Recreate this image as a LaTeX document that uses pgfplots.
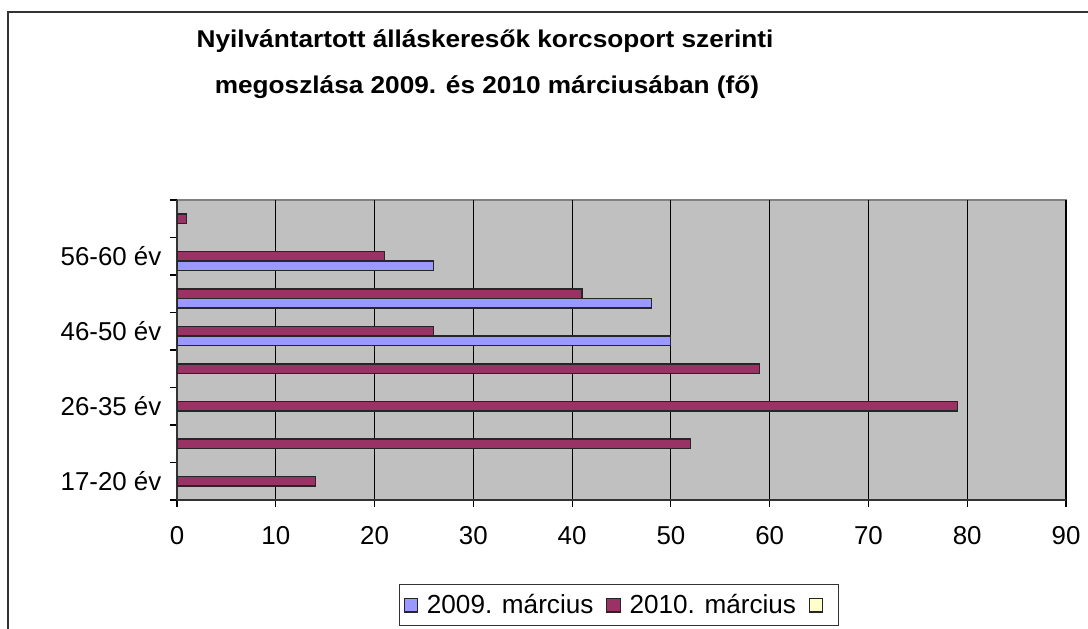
\documentclass[border=0pt]{standalone}
\usepackage{pgfplots}
\pgfplotsset{compat=1.18}
\usepackage{graphicx}
\usepackage{fontspec}
\setmainfont{Liberation Sans}
\definecolor{sA}{HTML}{9999FF}
\definecolor{sB}{HTML}{993366}
\definecolor{sC}{HTML}{FFFFCC}
\definecolor{bg}{HTML}{C0C0C0}
\begin{document}
\begin{tikzpicture}[x=0.75pt,y=0.75pt]
\useasboundingbox (0,0) rectangle (1088,628);
\clip (0,0) rectangle (1088,628);
% chart frame
\draw[line width=1.2pt, black!80] (8,-20) -- (8,616) -- (1100,616);
% title
\node[font=\fontsize{18.2}{20}\selectfont\bfseries, anchor=base, inner sep=0pt] at (485,628-48)
  {\scalebox{1.08}[1]{Nyilvántartott álláskeresők korcsoport szerinti}};
\node[font=\fontsize{18.2}{20}\selectfont\bfseries, anchor=base, inner sep=0pt] at (487,628-94)
  {\scalebox{1.08}[1]{megoszlása 2009. és 2010 márciusában (fő)}};
\begin{axis}[
  at={(177*0.75pt,128*0.75pt)}, anchor=south west,
  scale only axis, width=889*0.75pt, height=300*0.75pt,
  xbar=0pt, bar width=9.5*0.75pt,
  xmin=0, xmax=90, ymin=-0.5, ymax=7.5,
  xtick={0,10,...,90},
  ytick={0,2,4,6},
  yticklabels={17-20 év,26-35 év,46-50 év,56-60 év},
  minor ytick={-0.5,0.5,...,7.5},
  major y tick style={draw=none},
  tick align=outside,
  major tick length=7*0.75pt, minor tick length=7*0.75pt,
  tick style={black, line width=0.8pt},
  xmajorgrids, major grid style={black, line width=0.8pt},
  axis x line*=bottom, axis y line*=left,
  axis line style={black!80, line width=1pt},
  axis background/.style={fill=bg, draw=gray, line width=1pt},
  /pgf/number format/assume math mode=true,
  ticklabel style={font=\fontsize{19.4}{22}\selectfont},
  xticklabel style={yshift=-11pt},
  yticklabel style={xshift=-3pt},
  legend columns=3,
  legend style={at={(222/889,-84/300)}, anchor=north west, draw=black!80, line width=0.8pt,
    font=\fontsize{19.6}{22}\selectfont, inner xsep=3pt, inner ysep=6pt,
    /tikz/every odd column/.append style={column sep=5pt},
    /tikz/every even column/.append style={column sep=8pt},
    nodes={inner sep=1.5pt}},
  legend image code/.code={\draw[#1, line width=0.8pt] (0.03cm,-0.18cm) rectangle (0.39cm,0.18cm);},
]
\addplot[fill=sA, draw=black!85, line width=0.8pt] coordinates {(50,4) (48,5) (26,6)};
\addlegendentry{2009. március}
\addplot[fill=sB, draw=black!85, line width=0.8pt] coordinates {(14,0) (52,1) (79,2) (59,3) (26,4) (41,5) (21,6) (1,7)};
\addlegendentry{2010. március}
\addplot[fill=sC, draw=black!85, line width=0.8pt] coordinates {(0,-10)};
\addlegendentry{}
\end{axis}
\end{tikzpicture}
\end{document}
